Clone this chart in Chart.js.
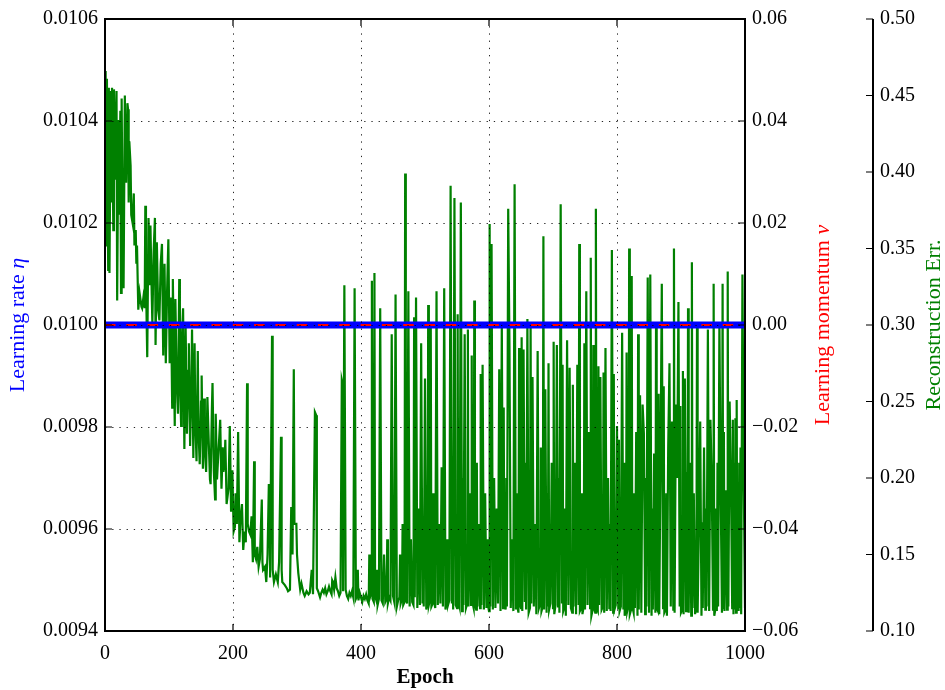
<!DOCTYPE html>
<html>
<head>
<meta charset="utf-8">
<script src="https://cdn.jsdelivr.net/npm/chart.js@4.4.1/dist/chart.umd.min.js"></script>
<style>
  html, body { margin: 0; padding: 0; background: #fff; }
  #wrap { width: 945px; height: 690px; }
</style>
</head>
<body>
<div id="wrap"><canvas id="myChart" width="945" height="690"></canvas></div>
<script>
// tick values
const epochTicks = [0, 200, 400, 600, 800, 1000];
const lrTicks = [0.0094, 0.0096, 0.0098, 0.0100, 0.0102, 0.0104, 0.0106];
const momentumTicks = [-0.06, -0.04, -0.02, 0.00, 0.02, 0.04, 0.06];
const errTicks = [0.10, 0.15, 0.20, 0.25, 0.30, 0.35, 0.40, 0.45, 0.50];

// constant series
const lrEpochs = [0, 1000];
const learningRate = [0.0100, 0.0100];
const momentum = [0.00, 0.00];

// reconstruction error, first part (epoch, value)
const errEarly = [
  [0, 0.405], [1, 0.466], [2, 0.352], [3, 0.461], [5, 0.336], [6, 0.455], [7, 0.334], [9, 0.453],
  [10, 0.380], [11, 0.455], [13, 0.362], [14, 0.454], [16, 0.395], [18, 0.453], [19, 0.316], [21, 0.434],
  [22, 0.372], [24, 0.440], [25, 0.321], [26, 0.448], [28, 0.330], [29, 0.324], [31, 0.450], [32, 0.400],
  [33, 0.393], [35, 0.445], [36, 0.441], [37, 0.380], [38, 0.420], [40, 0.404], [41, 0.372], [43, 0.367],
  [45, 0.386], [46, 0.352], [48, 0.362], [49, 0.340], [50, 0.352], [52, 0.310], [54, 0.321], [55, 0.318],
  [57, 0.312], [58, 0.311], [60, 0.318], [62, 0.311], [63, 0.378], [64, 0.330], [66, 0.279], [68, 0.370],
  [70, 0.326], [71, 0.365], [73, 0.320], [74, 0.301], [76, 0.348], [78, 0.370], [79, 0.287], [81, 0.354],
  [83, 0.310], [85, 0.303], [87, 0.340], [89, 0.353], [91, 0.280], [93, 0.340], [95, 0.275], [97, 0.322],
  [99, 0.356], [101, 0.275], [103, 0.318], [105, 0.246], [106, 0.330], [109, 0.234], [110, 0.317], [112, 0.262],
  [114, 0.242], [116, 0.330], [117, 0.265], [119, 0.234], [120, 0.290], [122, 0.311], [124, 0.219], [126, 0.298],
  [128, 0.229], [130, 0.270], [131, 0.288], [133, 0.221], [135, 0.262], [136, 0.297], [138, 0.213], [140, 0.288],
  [141, 0.240], [143, 0.211], [145, 0.283], [146, 0.232], [148, 0.209], [150, 0.250], [151, 0.267], [153, 0.206],
  [155, 0.252], [156, 0.220], [158, 0.204], [160, 0.253], [162, 0.225], [164, 0.199], [165, 0.196], [167, 0.245],
  [168, 0.262], [170, 0.205], [172, 0.186], [173, 0.242], [175, 0.199], [177, 0.215], [180, 0.238], [182, 0.193],
  [184, 0.220], [185, 0.204], [187, 0.211], [188, 0.225], [190, 0.183], [193, 0.193], [195, 0.234], [197, 0.178],
  [199, 0.205], [201, 0.165], [203, 0.168], [204, 0.190], [206, 0.170], [208, 0.230], [210, 0.158], [212, 0.175],
  [214, 0.183], [216, 0.153], [218, 0.165], [220, 0.158], [222, 0.262], [223, 0.170], [225, 0.165], [227, 0.163],
  [229, 0.175], [231, 0.145], [233, 0.211], [234, 0.150], [236, 0.147], [238, 0.155], [240, 0.142], [242, 0.147],
  [245, 0.186], [246, 0.145], [247, 0.140], [250, 0.142], [252, 0.132], [254, 0.150], [256, 0.196], [257, 0.193],
  [258, 0.135], [261, 0.293], [262, 0.140], [264, 0.132], [267, 0.137], [270, 0.132], [272, 0.145], [275, 0.227],
  [276, 0.140], [277, 0.132], [281, 0.130], [284, 0.128], [286, 0.126], [289, 0.127], [291, 0.181], [293, 0.150],
  [295, 0.271], [296, 0.170], [299, 0.170], [300, 0.150], [302, 0.138], [305, 0.127], [307, 0.131], [310, 0.125],
  [312, 0.123], [315, 0.126], [318, 0.124], [320, 0.125], [323, 0.140], [325, 0.124], [328, 0.243], [330, 0.241],
  [331, 0.128], [333, 0.126], [336, 0.122], [338, 0.125]
];

// flat part, every 2 epochs from 340 to 1000
const baseStart = 340;
const baseStep = 2;
const errBaseline = [
  0.127, 0.125, 0.128, 0.124, 0.126, 0.129, 0.126, 0.124, 0.132, 0.127, 0.125, 0.128, 0.126, 0.123, 0.125, 0.122, 0.126, 0.124, 0.127, 0.123, 0.121, 0.125, 0.123, 0.126, 0.122,
  0.124, 0.121, 0.123, 0.120, 0.125, 0.122, 0.119, 0.123, 0.121, 0.124, 0.120, 0.118, 0.122, 0.125, 0.121, 0.119, 0.123, 0.120, 0.117, 0.121, 0.124, 0.120, 0.118, 0.122, 0.119,
  0.121, 0.118, 0.122, 0.120, 0.117, 0.123, 0.119, 0.121, 0.116, 0.120, 0.122, 0.118, 0.121, 0.117, 0.119, 0.123, 0.118, 0.120, 0.116, 0.121, 0.119, 0.117, 0.122, 0.118, 0.115,
  0.120, 0.117, 0.121, 0.118, 0.116, 0.120, 0.114, 0.119, 0.117, 0.121, 0.116, 0.118, 0.120, 0.115, 0.119, 0.117, 0.113, 0.118, 0.121, 0.116, 0.118, 0.114, 0.119, 0.117, 0.120,
  0.116, 0.118, 0.114, 0.119, 0.117, 0.115, 0.120, 0.116, 0.118, 0.113, 0.117, 0.119, 0.115, 0.118, 0.116, 0.112, 0.117, 0.119, 0.115, 0.118, 0.114, 0.116, 0.119, 0.115, 0.117,
  0.119, 0.114, 0.117, 0.115, 0.118, 0.113, 0.116, 0.119, 0.114, 0.117, 0.115, 0.112, 0.118, 0.116, 0.113, 0.117, 0.115, 0.119, 0.114, 0.116, 0.112, 0.117, 0.115, 0.118, 0.113,
  0.116, 0.114, 0.117, 0.112, 0.118, 0.115, 0.113, 0.116, 0.119, 0.114, 0.117, 0.112, 0.115, 0.118, 0.113, 0.116, 0.114, 0.111, 0.117, 0.115, 0.118, 0.113, 0.116, 0.114, 0.117,
  0.112, 0.116, 0.114, 0.118, 0.113, 0.115, 0.111, 0.117, 0.114, 0.116, 0.112, 0.115, 0.118, 0.113, 0.116, 0.110, 0.114, 0.117, 0.113, 0.115, 0.112, 0.116, 0.114, 0.111, 0.115,
  0.117, 0.113, 0.115, 0.111, 0.116, 0.114, 0.112, 0.117, 0.113, 0.115, 0.110, 0.114, 0.116, 0.112, 0.115, 0.113, 0.117, 0.111, 0.114, 0.116, 0.112, 0.115, 0.113, 0.110, 0.115,
  0.113, 0.116, 0.112, 0.114, 0.117, 0.111, 0.115, 0.113, 0.116, 0.112, 0.114, 0.110, 0.115, 0.113, 0.117, 0.111, 0.114, 0.116, 0.112, 0.115, 0.113, 0.110, 0.114, 0.116, 0.112,
  0.115, 0.113, 0.111, 0.116, 0.114, 0.112, 0.115, 0.110, 0.114, 0.117, 0.112, 0.115, 0.113, 0.111, 0.116, 0.113, 0.115, 0.112, 0.114, 0.110, 0.115, 0.113, 0.116, 0.111, 0.114,
  0.112, 0.115, 0.113, 0.110, 0.116, 0.112, 0.114, 0.111, 0.115, 0.113, 0.117, 0.112, 0.114, 0.110, 0.115, 0.113, 0.111, 0.116, 0.112, 0.114, 0.113, 0.110, 0.115, 0.112, 0.114,
  0.116, 0.111, 0.113, 0.115, 0.112, 0.114, 0.110, 0.115, 0.113, 0.116, 0.111, 0.114, 0.112, 0.115, 0.113, 0.110, 0.114, 0.116, 0.112, 0.113, 0.115, 0.111, 0.114, 0.112, 0.116,
  0.113, 0.115, 0.111, 0.114, 0.112, 0.115
];

// the spikes on top of the flat part (epoch, peak)
const errSpikes = [
  [355, 0.133], [360, 0.135], [370, 0.264], [371, 0.262], [374, 0.326], [390, 0.324], [395, 0.140], [413, 0.150],
  [417, 0.329], [421, 0.334], [425, 0.140], [430, 0.311], [436, 0.150], [441, 0.160], [448, 0.294], [454, 0.320],
  [461, 0.150], [465, 0.170], [469, 0.399], [474, 0.322], [478, 0.160], [483, 0.305], [486, 0.318], [490, 0.180],
  [494, 0.288], [497, 0.170], [500, 0.265], [505, 0.313], [509, 0.298], [513, 0.190], [518, 0.322], [522, 0.170],
  [526, 0.207], [530, 0.324], [535, 0.160], [540, 0.391], [543, 0.180], [546, 0.383], [551, 0.307], [556, 0.380],
  [559, 0.200], [562, 0.294], [567, 0.297], [570, 0.190], [573, 0.280], [577, 0.316], [581, 0.210], [584, 0.170],
  [587, 0.268], [590, 0.274], [594, 0.190], [597, 0.160], [601, 0.366], [604, 0.353], [608, 0.200], [612, 0.180],
  [616, 0.271], [620, 0.301], [623, 0.246], [627, 0.200], [630, 0.376], [632, 0.285], [636, 0.160], [640, 0.392],
  [643, 0.190], [647, 0.285], [651, 0.292], [654, 0.284], [657, 0.210], [660, 0.304], [665, 0.302], [668, 0.266],
  [672, 0.170], [676, 0.283], [681, 0.220], [685, 0.358], [688, 0.258], [691, 0.190], [693, 0.275], [698, 0.210],
  [701, 0.289], [706, 0.287], [709, 0.200], [712, 0.379], [715, 0.274], [719, 0.180], [722, 0.290], [726, 0.272],
  [731, 0.261], [734, 0.210], [738, 0.274], [741, 0.353], [745, 0.190], [749, 0.288], [752, 0.322], [756, 0.230],
  [759, 0.344], [763, 0.287], [767, 0.376], [771, 0.273], [774, 0.266], [779, 0.269], [782, 0.285], [786, 0.200],
  [789, 0.170], [792, 0.349], [795, 0.268], [800, 0.234], [803, 0.225], [808, 0.295], [811, 0.210], [815, 0.282],
  [819, 0.350], [823, 0.332], [827, 0.190], [830, 0.230], [833, 0.294], [836, 0.254], [840, 0.248], [842, 0.229],
  [845, 0.200], [848, 0.331], [852, 0.333], [855, 0.180], [858, 0.216], [861, 0.300], [865, 0.255], [868, 0.210],
  [870, 0.327], [873, 0.260], [877, 0.190], [880, 0.220], [882, 0.275], [886, 0.237], [889, 0.350], [892, 0.248],
  [894, 0.200], [896, 0.315], [899, 0.247], [903, 0.270], [906, 0.265], [909, 0.204], [911, 0.311], [914, 0.210],
  [917, 0.341], [920, 0.190], [925, 0.301], [928, 0.170], [930, 0.237], [933, 0.171], [936, 0.220], [939, 0.180],
  [942, 0.297], [946, 0.238], [948, 0.200], [951, 0.327], [955, 0.180], [957, 0.210], [960, 0.301], [962, 0.190],
  [965, 0.327], [967, 0.230], [970, 0.192], [973, 0.335], [976, 0.250], [978, 0.200], [981, 0.238], [983, 0.210],
  [985, 0.239], [987, 0.251], [989, 0.180], [991, 0.210], [993, 0.220], [996, 0.333], [998, 0.200]
];

const BLUE = '#0000ff';
const RED = '#ff0000';
const GREEN = '#008000';
const serif = "'Liberation Serif', 'Times New Roman', serif";
const tickFont = { family: serif, size: 20 };

function buildErrSeries() {
    const byEpoch = new Map();
    errEarly.forEach(p => byEpoch.set(p[0], p[1]));
    errBaseline.forEach((v, i) => byEpoch.set(baseStart + i * baseStep, v));
    errSpikes.forEach(p => byEpoch.set(p[0], p[1])); // spikes replace the flat value
    return [...byEpoch.keys()].sort((a, b) => a - b).map(e => ({ x: e, y: byEpoch.get(e) }));
}

function fixedTicks(list) {
    return function (scale) {
        scale.ticks = list.map(v => ({ value: v }));
    };
}

function minusFmt(v, digits) {
    const s = Math.abs(v).toFixed(digits);
    return (v < -1e-9 ? '\u2212' : '') + s;
}

// grid, spines, inward ticks and the three y titles (matplotlib look)
const decorPlugin = {
    id: 'decor',
    afterDatasetsDraw(chart) {
        const { ctx, chartArea: a, scales } = chart;
        const { x, y, y1, y2 } = scales;
        ctx.save();

        // dotted grid over the data
        ctx.lineWidth = 1;
        ctx.strokeStyle = 'rgba(0,0,0,0.85)';
        ctx.setLineDash([1.3, 5.9]);
        x.ticks.forEach(t => {
            const px = Math.round(x.getPixelForValue(t.value)) + 0.5;
            if (px <= a.left + 2 || px >= a.right - 2) return;
            ctx.beginPath();
            ctx.moveTo(px, a.top);
            ctx.lineTo(px, a.bottom);
            ctx.stroke();
        });
        y.ticks.forEach(t => {
            const py = Math.round(y.getPixelForValue(t.value)) + 0.5;
            if (py <= a.top + 2 || py >= a.bottom - 2) return;
            ctx.beginPath();
            ctx.moveTo(a.left, py);
            ctx.lineTo(a.right, py);
            ctx.stroke();
        });
        ctx.setLineDash([]);

        // spines
        ctx.strokeStyle = '#000';
        ctx.lineWidth = 2;
        ctx.strokeRect(a.left, a.top, a.right - a.left, a.bottom - a.top);
        ctx.beginPath();
        ctx.moveTo(y2.left, a.top);
        ctx.lineTo(y2.left, a.bottom);
        ctx.stroke();

        // inward ticks
        const tl = 7;
        ctx.lineWidth = 1.2;
        ctx.beginPath();
        x.ticks.forEach(t => {
            const px = x.getPixelForValue(t.value);
            ctx.moveTo(px, a.bottom); ctx.lineTo(px, a.bottom - tl);
            ctx.moveTo(px, a.top); ctx.lineTo(px, a.top + tl);
        });
        y.ticks.forEach(t => {
            const py = y.getPixelForValue(t.value);
            ctx.moveTo(a.left, py); ctx.lineTo(a.left + tl, py);
        });
        y1.ticks.forEach(t => {
            const py = y1.getPixelForValue(t.value);
            ctx.moveTo(a.right, py); ctx.lineTo(a.right - tl, py);
        });
        y2.ticks.forEach(t => {
            const py = y2.getPixelForValue(t.value);
            ctx.moveTo(y2.left, py); ctx.lineTo(y2.left - tl, py);
        });
        ctx.stroke();
        ctx.restore();
    },
    afterDraw(chart) {
        const { ctx, chartArea: a } = chart;
        const cy = (a.top + a.bottom) / 2;
        const size = 22;
        // title drawn bottom-to-top, main text plus an italic symbol
        function vTitle(cx, text, sym, color) {
            ctx.save();
            ctx.translate(cx, cy);
            ctx.rotate(-Math.PI / 2);
            ctx.fillStyle = color;
            ctx.textBaseline = 'middle';
            ctx.textAlign = 'left';
            ctx.font = size + 'px ' + serif;
            const w1 = ctx.measureText(text).width;
            ctx.font = 'italic ' + size + 'px ' + serif;
            const w2 = sym ? ctx.measureText(sym).width : 0;
            const start = -(w1 + w2) / 2;
            ctx.font = size + 'px ' + serif;
            ctx.fillText(text, start, 0);
            if (sym) {
                ctx.font = 'italic ' + size + 'px ' + serif;
                ctx.fillText(sym, start + w1, 0);
            }
            ctx.restore();
        }
        vTitle(18, 'Learning rate ', '\u03b7', BLUE);
        vTitle(823, 'Learning momentum ', '\u03bd', RED);
        vTitle(934, 'Reconstruction Err.', '', GREEN);
    }
};

const ctx = document.getElementById('myChart');

const chart = new Chart(ctx, {
    type: 'line',
    data: {
        datasets: [
            {
                label: 'momentum',
                data: lrEpochs.map((e, i) => ({ x: e, y: momentum[i] })),
                yAxisID: 'y1',
                borderColor: RED,
                borderWidth: 2,
                borderDash: [10.5, 10.8],
                borderCapStyle: 'butt',
                pointRadius: 0
            },
            {
                label: 'learning rate',
                data: lrEpochs.map((e, i) => ({ x: e, y: learningRate[i] })),
                yAxisID: 'y',
                borderColor: BLUE,
                borderWidth: 7,
                borderCapStyle: 'butt',
                pointRadius: 0
            },
            {
                label: 'reconstruction error',
                data: buildErrSeries(),
                yAxisID: 'y2',
                borderColor: GREEN,
                borderWidth: 2.2,
                pointRadius: 0,
                tension: 0
            }
        ]
    },
    options: {
        responsive: false,
        animation: false,
        devicePixelRatio: 1,
        layout: { padding: { top: 17, left: 0, right: 0, bottom: 0 } },
        plugins: {
            legend: { display: false },
            tooltip: { enabled: false }
        },
        scales: {
            x: {
                type: 'linear',
                position: 'bottom',
                min: 0,
                max: 1000,
                afterBuildTicks: fixedTicks(epochTicks),
                afterFit: s => { s.height = 59; },
                grid: { display: false, drawTicks: false },
                border: { display: false },
                ticks: { font: tickFont, color: '#000', padding: 11, maxRotation: 0, callback: v => String(v) },
                title: {
                    display: true,
                    text: 'Epoch',
                    color: '#000',
                    font: { family: serif, size: 21, weight: 'bold' },
                    padding: { top: 0, bottom: 0 }
                }
            },
            y: {
                type: 'linear',
                position: 'left',
                min: 0.0094,
                max: 0.0106,
                afterBuildTicks: fixedTicks(lrTicks),
                afterFit: s => { s.width = 105; },
                grid: { display: false, drawTicks: false },
                border: { display: false },
                ticks: { font: tickFont, color: '#000', padding: 7, callback: v => v.toFixed(4) }
            },
            y1: {
                type: 'linear',
                position: 'right',
                min: -0.06,
                max: 0.06,
                afterBuildTicks: fixedTicks(momentumTicks),
                afterFit: s => { s.width = 128; },
                grid: { display: false, drawTicks: false },
                border: { display: false },
                ticks: { font: tickFont, color: '#000', padding: 7, callback: v => minusFmt(v, 2) }
            },
            y2: {
                type: 'linear',
                position: 'right',
                min: 0.10,
                max: 0.50,
                afterBuildTicks: fixedTicks(errTicks),
                afterFit: s => { s.width = 72; },
                grid: { display: false, drawTicks: false },
                border: { display: false },
                ticks: { font: tickFont, color: '#000', padding: 7, callback: v => v.toFixed(2) }
            }
        }
    },
    plugins: [decorPlugin]
});
</script>
</body>
</html>
